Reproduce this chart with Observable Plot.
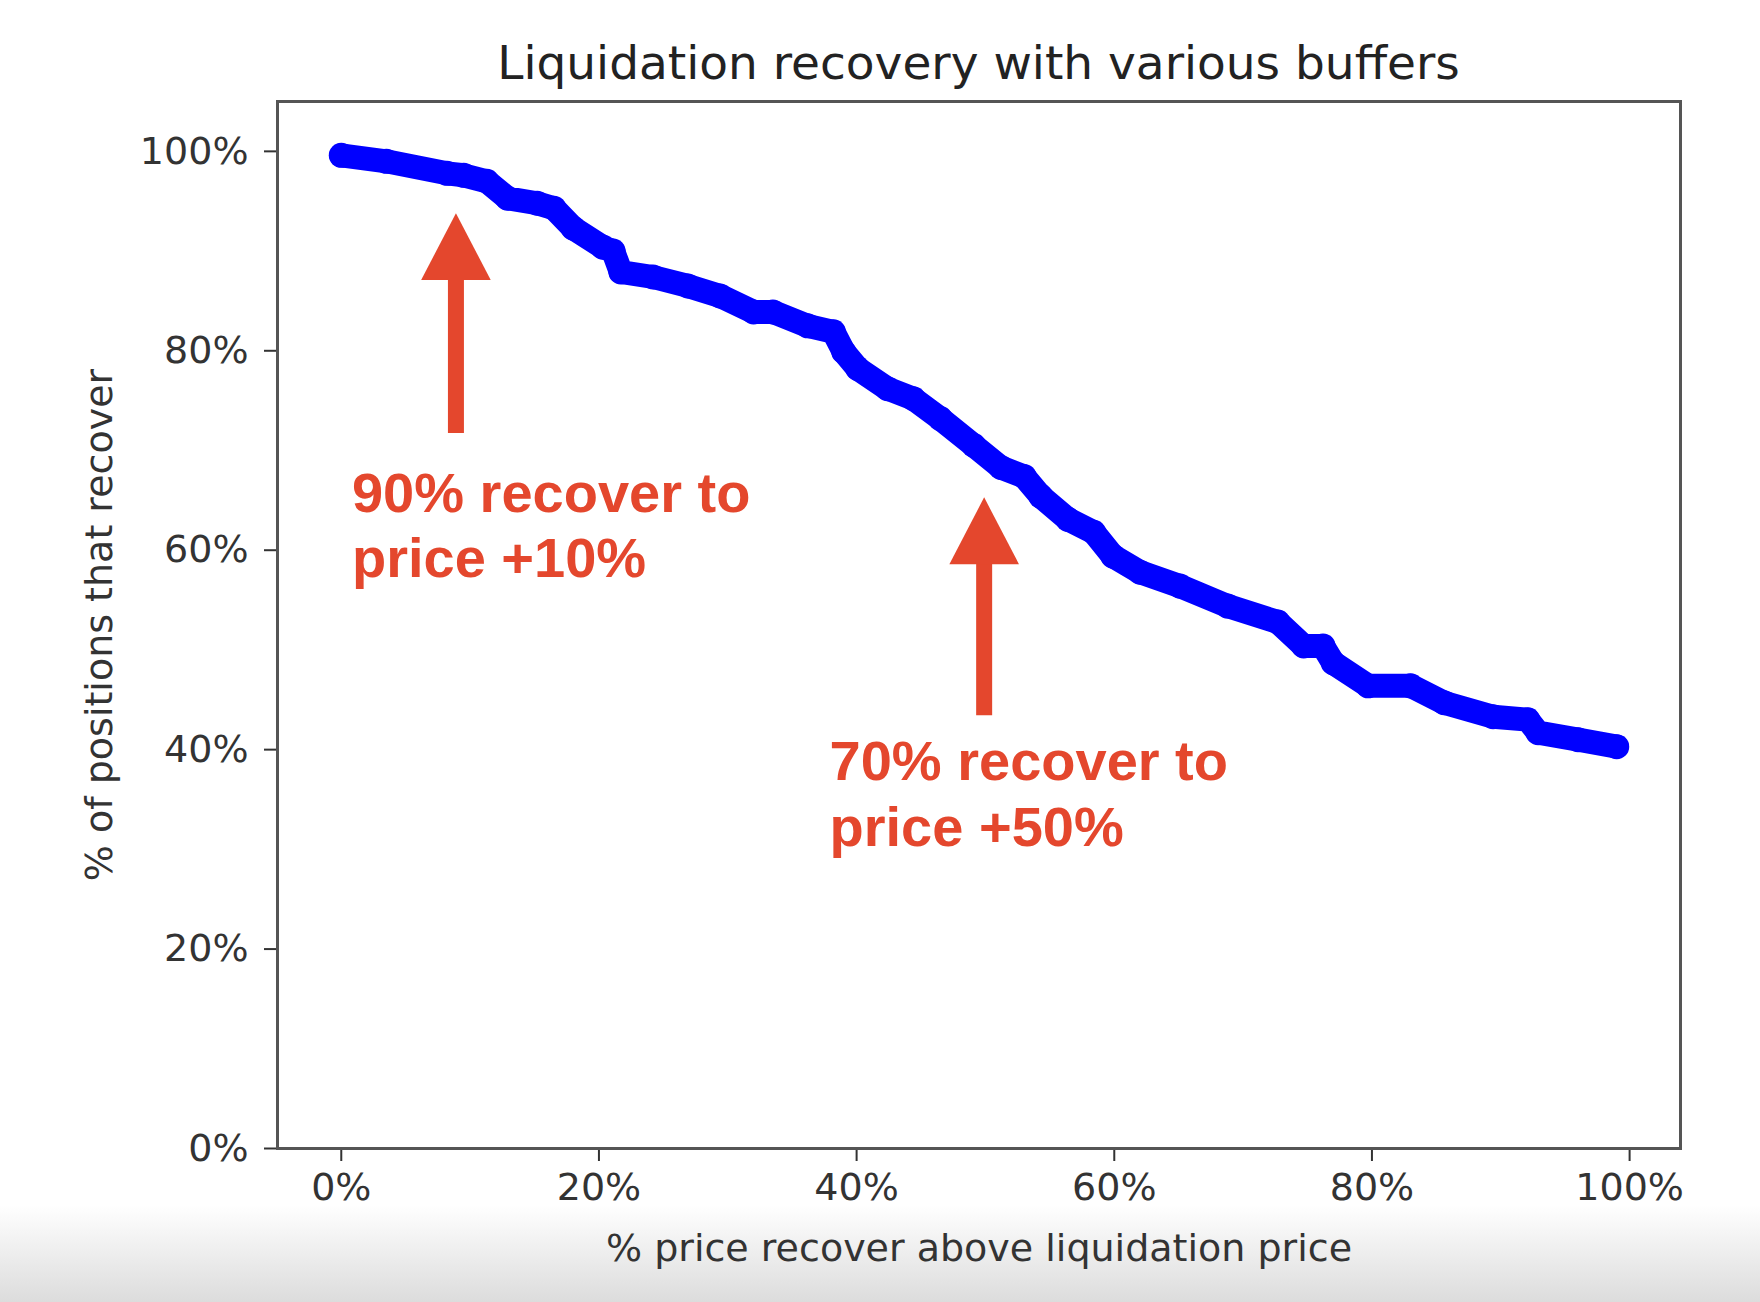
<!DOCTYPE html>
<html>
<head>
<meta charset="utf-8">
<script src="https://cdn.jsdelivr.net/npm/d3@7"></script>
<script src="https://cdn.jsdelivr.net/npm/@observablehq/plot@0.6"></script>
<style>
  html, body { margin: 0; padding: 0; }
  body {
    width: 1760px; min-height: 1302px;
    background: linear-gradient(to bottom, #ffffff 0px, #ffffff 1205px, #dcdcdc 1302px);
    font-family: "DejaVu Sans", sans-serif;
  }
  #title {
    box-sizing: border-box; height: 90px; padding: 39px 80px 0 277px;
    text-align: center; font-size: 47px; line-height: 47px; color: #222;
    font-family: "DejaVu Sans", sans-serif; white-space: nowrap;
  }
</style>
</head>
<body>
<div id="title">Liquidation recovery with various buffers</div>
<div id="chart"></div>
<script>
// Curve: x = % price recovery, y = % of positions that recover
const recoveryX = [0, 3.5, 8.2, 9.5, 11.3, 12.9, 15.2, 16.5, 18.0, 20.3, 21.1, 21.7, 24.2, 26.9, 29.4, 32.0, 33.5, 36.2, 38.2, 39.0, 40.1, 42.4, 44.4, 46.5, 49.1, 51.2, 53.0, 54.3, 56.4, 58.4, 59.9, 62.0, 65.1, 68.8, 72.7, 74.7, 76.2, 77.0, 79.7, 83.0, 85.6, 89.4, 92.1, 92.9, 96.0, 99.0];
const recoveryY = [99.6, 99.0, 97.8, 97.6, 97.0, 95.3, 94.8, 94.3, 92.3, 90.4, 90.0, 87.9, 87.4, 86.5, 85.5, 83.9, 83.9, 82.5, 81.9, 79.9, 78.2, 76.2, 75.2, 73.2, 70.5, 68.3, 67.4, 65.4, 63.1, 61.8, 59.4, 57.8, 56.4, 54.4, 52.8, 50.4, 50.4, 48.7, 46.4, 46.4, 44.7, 43.3, 43.0, 41.7, 41.0, 40.3];

const xTicks = [0, 20, 40, 60, 80, 100];
const yTicks = [0, 20, 40, 60, 80, 100];

const xLabel = "% price recover above liquidation price";
const yLabel = "% of positions that recover";

// Annotation arrows: x, shaft bottom, head base, tip, head half-width (in x units)
const arrowX = [8.9, 49.9];
const arrowBottom = [71.7, 43.4];
const arrowBase = [87.1, 58.6];
const arrowTip = [93.8, 65.3];
const arrowHalf = [2.7, 2.7];

// Annotation texts (one entry per line, baseline position)
const noteText = ["90% recover to", "price +10%", "70% recover to", "price +50%"];
const noteX = [0.83, 0.83, 37.9, 37.9];
const noteY = [63.8, 57.3, 37.0, 30.3];

const red = "#e4472d";
const blue = "#0000ff";

const curve = recoveryX.map((x, i) => ({x, y: recoveryY[i]}));
const notes = noteText.map((t, i) => ({t, x: noteX[i], y: noteY[i]}));
const shafts = arrowX.map((x, i) => ({x, y1: arrowBottom[i], y2: arrowBase[i] + 0.5}));
const heads = arrowX.flatMap((x, i) => [
  {id: i, x: x - arrowHalf[i], y: arrowBase[i]},
  {id: i, x: x, y: arrowTip[i]},
  {id: i, x: x + arrowHalf[i], y: arrowBase[i]}
]);

const chart = Plot.plot({
  width: 1760,
  height: 1212,
  marginTop: 11,
  marginBottom: 154,
  marginLeft: 277,
  marginRight: 80,
  style: {background: "transparent", fontFamily: "DejaVu Sans, sans-serif", fontSize: "38px", color: "#333"},
  x: {domain: [-4.95, 103.95]},
  y: {domain: [0, 105]},
  marks: [
    Plot.axisX({ticks: xTicks, tickSize: 13, tickPadding: 12, tickFormat: d => d + "%", label: null, strokeWidth: 2}),
    Plot.axisY({ticks: yTicks, tickSize: 13, tickPadding: 16, tickFormat: d => d + "%", label: null, strokeWidth: 2}),
    Plot.text([xLabel], {frameAnchor: "bottom", dy: 100, textAnchor: "middle", lineAnchor: "middle", fontSize: 38, fill: "#333"}),
    Plot.text([yLabel], {frameAnchor: "left", dx: -178, rotate: -90, textAnchor: "middle", lineAnchor: "middle", fontSize: 38, fill: "#333"}),
    Plot.line(curve, {x: "x", y: "y", stroke: blue, strokeWidth: 24, strokeLinejoin: "round", strokeLinecap: "round"}),
    Plot.dot(curve, {x: "x", y: "y", r: 12.5, fill: blue, stroke: null}),
    Plot.ruleX(shafts, {x: "x", y1: "y1", y2: "y2", stroke: red, strokeWidth: 16}),
    Plot.line(heads, {x: "x", y: "y", z: "id", fill: red, stroke: null}),
    Plot.text(notes, {x: "x", y: "y", text: "t", textAnchor: "start", lineAnchor: "bottom", fontSize: 56, fontWeight: "bold", fontFamily: "Liberation Sans, Arial, sans-serif", fill: red}),
    Plot.frame({stroke: "#555", strokeWidth: 3})
  ]
});
document.getElementById("chart").appendChild(chart);
</script>
</body>
</html>
